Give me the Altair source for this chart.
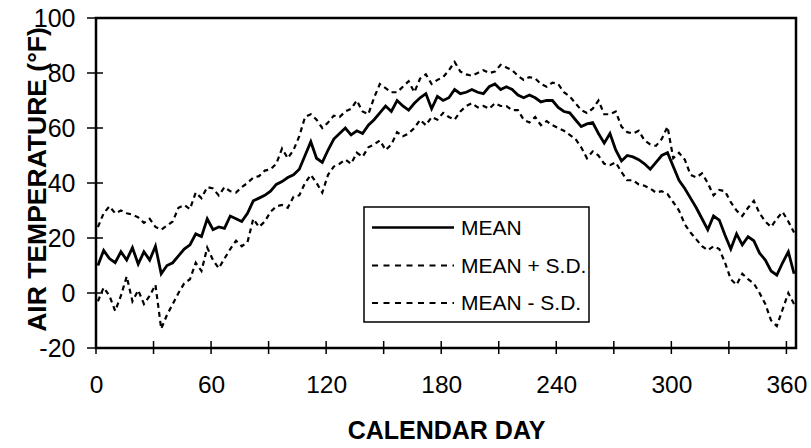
import altair as alt
import pandas as pd

# Calendar day of each reading (every third day of the year)
days = list(range(1, 366, 3))

# Daily mean air temperature (°F)
mean_temp = [
    10, 15.5, 12.5, 11, 15, 12, 16.5, 10.5, 15, 12, 17, 7, 10, 11, 13.5, 16, 17.5,
    21.5, 20.5, 27, 23, 24, 23.5, 28, 27, 26, 29, 33.5, 34.5, 35.5, 37, 39.5, 40.5,
    42, 43, 45, 50, 55, 49, 47.5, 52, 56, 58, 60, 57.5, 59, 58, 61, 63, 65.5, 68,
    66, 70, 68, 66.5, 69, 71, 72.5, 67, 71.5, 70, 71, 74, 72.5, 73, 74, 73, 72.5,
    75, 76, 74, 75, 74, 72, 71, 72, 71, 69.5, 70, 70, 67.5, 66, 65.5, 63, 60.5,
    61.5, 62, 58, 54.5, 58, 52, 48, 50, 49.5, 48.5, 47, 45, 47.5, 50, 51, 46, 41,
    38, 34.5, 31, 27, 23, 28, 26.5, 21, 16, 21.5, 17.5, 20.5, 19, 14.5, 12, 8, 6.5,
    11, 15, 7,
]

# Mean plus one standard deviation
upper_temp = [
    24, 29, 31.5, 29, 30, 29, 28.5, 27.5, 25.5, 27, 24, 23, 24.5, 26, 31, 32, 30.5,
    36.5, 34.5, 38.5, 38, 35.5, 38.5, 37, 36.5, 38.5, 40, 42, 42.5, 44.5, 45, 47,
    52.5, 49, 52, 57, 64, 65, 63, 60, 62, 64.5, 64, 66, 67, 70, 66, 65, 71, 76,
    74.5, 73, 73, 75, 77, 73, 78, 79.5, 76, 77.5, 78.5, 81, 84, 80.5, 79.5, 79, 80,
    81, 80, 80.5, 83, 82, 81, 79, 77.5, 78.5, 78, 76, 75, 76.5, 76, 73, 71.5, 69,
    66.5, 65.5, 67, 70, 65, 65, 66, 60.5, 58.5, 58, 59, 55.5, 54, 53.5, 56, 60.5,
    49, 51, 48.5, 43, 42, 43.5, 40, 35.5, 37.5, 37, 33, 30, 28, 31, 33.5, 29, 26,
    24, 27, 29.5, 26, 22,
]

# Mean minus one standard deviation
lower_temp = [
    -3, 2, -1, -6.5, -1, 6, -3, 1, -4, -1, 3, -13, -8, -4, 0, 3.5, 5, 11, 8, 16.5,
    12, 9, 12.5, 16, 19, 17, 18.5, 27, 24, 26, 29.5, 31.5, 32, 31, 35, 35.5, 40, 43,
    40, 36.5, 43, 46, 47, 48.5, 47, 51, 49.5, 53, 54, 55.5, 52, 54, 58.5, 57, 58,
    60, 63, 61, 64, 63, 65.5, 64, 63, 66, 68, 69, 67.5, 68, 67, 69, 68, 68, 66.5,
    66.5, 63, 62, 64, 61, 62.5, 61, 60, 59, 57.5, 56, 53, 49, 51.5, 50, 47, 46.5,
    47.5, 44, 41, 41, 39.5, 39, 38, 36.5, 37, 36, 33, 30, 25, 22, 19.5, 17, 15.5,
    17, 16, 11, 5, 3, 7, 5, 3.5, 0, -4, -10, -12, -6, 0, -4,
]

x_ticks = list(range(0, 361, 30))
x_labels = list(range(0, 361, 60))
y_ticks = list(range(-20, 101, 20))

legend_labels = ["MEAN", "MEAN + S.D.", "MEAN - S.D."]

FONT = "Liberation Sans"
W, H = 700, 330

df = pd.DataFrame({"day": days, "mean": mean_temp, "upper": upper_temp, "lower": lower_temp})

x_scale = alt.Scale(domain=[0, 365], nice=False, zero=False)
y_scale = alt.Scale(domain=[-20, 100], nice=False, zero=False)

x_axis = alt.Axis(
    values=x_labels, ticks=False, grid=False, domain=False, labelFlush=False,
    labelFont=FONT, labelFontSize=24.5, labelColor="black", labelPadding=25,
    labelBaseline="top",
    title="CALENDAR DAY", titleFont=FONT, titleFontSize=25, titleFontWeight="bold",
    titleColor="black", titleX=350, titleY=90, titleAlign="center",
    titleBaseline="alphabetic",
)
y_axis = alt.Axis(
    values=y_ticks, ticks=False, grid=False, domain=False, labelFlush=False,
    labelExpr="'' + datum.value",
    labelFont=FONT, labelFontSize=25, labelColor="black", labelPadding=21,
    title="AIR TEMPERATURE (°F)", titleFont=FONT, titleFontSize=26.5,
    titleFontWeight="bold", titleColor="black", titleAngle=270, titleX=-51,
    titleY=161, titleAlign="center", titleBaseline="alphabetic",
)

base = alt.Chart(df)

mean_line = base.mark_line(color="black", strokeWidth=2.8, strokeJoin="miter").encode(
    x=alt.X("day:Q", scale=x_scale, axis=x_axis),
    y=alt.Y("mean:Q", scale=y_scale, axis=y_axis),
)
upper_line = base.mark_line(color="black", strokeWidth=2.2, strokeDash=[5, 4]).encode(
    x="day:Q", y="upper:Q"
)
lower_line = base.mark_line(color="black", strokeWidth=2.2, strokeDash=[5, 4]).encode(
    x="day:Q", y="lower:Q"
)

# Ticks that cross the axis lines
xt = alt.Chart(pd.DataFrame({"t": x_ticks})).mark_rule(color="black", strokeWidth=1.5).encode(
    x="t:Q", y=alt.value(H - 7), y2=alt.value(H + 6)
)
yt = alt.Chart(pd.DataFrame({"t": y_ticks})).mark_rule(color="black", strokeWidth=1.5).encode(
    y="t:Q", x=alt.value(-9), x2=alt.value(7)
)

# Legend box with line samples and labels
one = pd.DataFrame({"k": [0]})
box = alt.Chart(one).mark_rect(fill="white", stroke="black", strokeWidth=1.5).encode(
    x=alt.value(268), x2=alt.value(493), y=alt.value(189), y2=alt.value(304)
)
legend_layers = [box]
row_y = [209.5, 247.5, 285]
for i, label in enumerate(legend_labels):
    if i == 0:
        rule = alt.Chart(one).mark_rule(color="black", strokeWidth=2.4)
    else:
        rule = alt.Chart(one).mark_rule(color="black", strokeWidth=1.8, strokeDash=[6, 5.5])
    legend_layers.append(
        rule.encode(x=alt.value(276), x2=alt.value(358), y=alt.value(row_y[i]))
    )
    legend_layers.append(
        alt.Chart(pd.DataFrame({"label": [label]})).mark_text(
            font=FONT, fontSize=21, align="left", baseline="middle", color="black",
            dy=1,
        ).encode(x=alt.value(365), y=alt.value(row_y[i]), text="label:N")
    )

chart = alt.layer(
    upper_line, lower_line, mean_line, xt, yt, *legend_layers
).properties(
    width=W, height=H,
    autosize=alt.AutoSizeParams(type="none"),
    padding={"left": 96, "top": 18, "right": 15, "bottom": 100},
    background="white",
).configure_view(
    stroke="black", strokeWidth=2.5
)

chart.save("out.html", embed_options={"renderer": "svg", "actions": False})
